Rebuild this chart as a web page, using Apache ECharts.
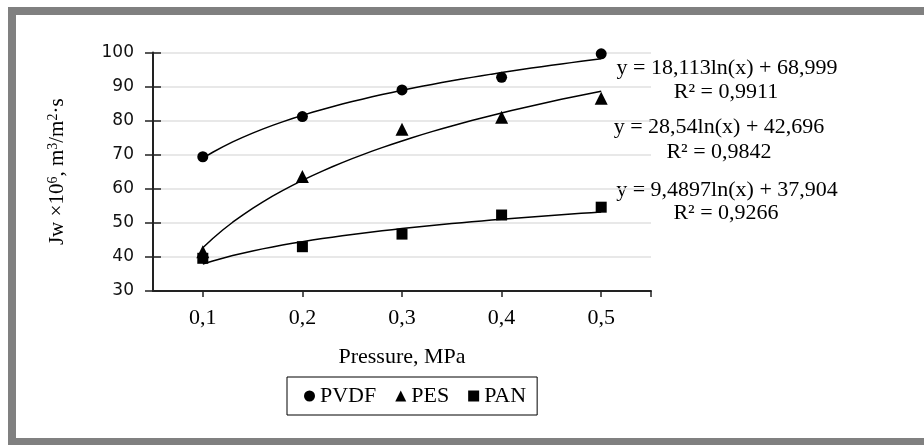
<!DOCTYPE html>
<html>
<head>
<meta charset="utf-8">
<script src="https://cdn.jsdelivr.net/npm/echarts@6/dist/echarts.min.js"></script>
<style>
  html, body { margin: 0; padding: 0; background: #fff; }
  #main { width: 924px; height: 445px; }
</style>
</head>
<body>
<div id="main"></div>
<script>
// pressure labels (x categories)
var pressures = ['0,1', '0,2', '0,3', '0,4', '0,5'];
// measured flux values
var pvdf = [69.4, 81.2, 89.0, 92.7, 99.6];
var pes = [41.5, 63.6, 77.5, 81.0, 86.6];
var pan = [39.6, 43.0, 46.7, 52.3, 54.6];
// log trendlines y = a ln(x) + b, x = point index 1..5
var trendA = [18.113, 28.54, 9.4897];
var trendB = [68.999, 42.696, 37.904];
var equations = ['y = 18,113ln(x) + 68,999', 'y = 28,54ln(x) + 42,696', 'y = 9,4897ln(x) + 37,904'];
var rSquared = ['R² = 0,9911', 'R² = 0,9842', 'R² = 0,9266'];

var serif = '"Liberation Serif", "Times New Roman", serif';

function points(vals) {
  return vals.map(function (v, i) { return [i + 1, v]; });
}
function trend(k) {
  var out = [];
  for (var i = 0; i <= 40; i++) {
    var x = 1 + i * 0.1;
    out.push([x, trendA[k] * Math.log(x) + trendB[k]]);
  }
  return out;
}

var myChart = echarts.init(document.getElementById('main'));

var markerSeries = [
  { name: 'PVDF', data: pvdf, symbol: 'circle', size: 11 },
  { name: 'PES', data: pes, symbol: 'triangle', size: 13 },
  { name: 'PAN', data: pan, symbol: 'rect', size: 11 }
];

var series = [];
markerSeries.forEach(function (s, k) {
  series.push({
    name: 'trend' + k,
    type: 'line',
    data: trend(k),
    showSymbol: false,
    lineStyle: { color: '#000', width: 1.5 },
    silent: true,
    z: 2
  });
});
markerSeries.forEach(function (s) {
  series.push({
    name: s.name,
    type: 'scatter',
    data: points(s.data),
    symbol: s.symbol,
    symbolSize: s.size,
    itemStyle: { color: '#000', opacity: 1 },
    z: 3
  });
});

// equation annotation text
var eqPos = [[727, 68, 726, 92], [719, 127, 719, 152], [727, 190, 726, 213]];
var graphics = [{
  type: 'rect',
  shape: { x: 12, y: 11, width: 1000, height: 431 },
  style: { fill: 'none', stroke: '#808080', lineWidth: 8 },
  silent: true
}];
equations.forEach(function (eq, k) {
  graphics.push({
    type: 'text', x: eqPos[k][0], y: eqPos[k][1],
    style: { text: eq, font: '22px ' + serif, fill: '#000', textAlign: 'center', textVerticalAlign: 'middle' }
  });
  graphics.push({
    type: 'text', x: eqPos[k][2], y: eqPos[k][3],
    style: { text: rSquared[k], font: '22px ' + serif, fill: '#000', textAlign: 'center', textVerticalAlign: 'middle' }
  });
});

var option = {
  animation: false,
  backgroundColor: '#fff',
  grid: { left: 153, right: 273, top: 52.5, bottom: 154, containLabel: false },
  xAxis: {
    type: 'value',
    min: 0.5,
    max: 5.5,
    name: 'Pressure, MPa',
    nameLocation: 'middle',
    nameGap: 55,
    nameTextStyle: { fontFamily: serif, fontSize: 22, color: '#000' },
    axisLine: { lineStyle: { color: '#222', width: 2 } },
    axisTick: { show: true, length: 6, customValues: [1, 2, 3, 4, 5, 5.5], lineStyle: { color: '#222', width: 1.5 } },
    axisLabel: {
      customValues: [1, 2, 3, 4, 5],
      margin: 16,
      fontFamily: serif, fontSize: 22, color: '#000',
      formatter: function (v) { return pressures[Math.round(v) - 1]; }
    },
    splitLine: { show: false }
  },
  yAxis: [{
    type: 'value',
    min: 30,
    max: 100,
    interval: 10,
    name: 'Jw ×10{s|6}, m{s|3}/m{s|2}·s',
    nameLocation: 'middle',
    nameRotate: 90,
    nameGap: 84,
    nameTextStyle: {
      fontFamily: serif, fontSize: 21, color: '#000', lineHeight: 23,
      rich: { s: { fontFamily: serif, fontSize: 14, color: '#000', verticalAlign: 'top', lineHeight: 14 } }
    },
    axisLine: { show: true, lineStyle: { color: '#222', width: 2 } },
    axisTick: { show: true, length: 8, lineStyle: { color: '#222', width: 1.5 } },
    axisLabel: { margin: 19, fontFamily: '"DejaVu Sans", Verdana, sans-serif', fontSize: 17, color: '#111' },
    splitLine: { show: true, lineStyle: { color: '#e0e0e0', width: 1.5 } }
  }, {
    type: 'value',
    position: 'left',
    min: 30,
    max: 100,
    interval: 10,
    axisLine: { show: false },
    axisTick: { show: true, inside: true, length: 8, lineStyle: { color: '#222', width: 1.5 } },
    axisLabel: { show: false },
    splitLine: { show: false }
  }],
  legend: {
    data: [
      { name: 'PVDF', icon: 'circle' },
      { name: 'PES', icon: 'triangle' },
      { name: 'PAN', icon: 'rect' }
    ],
    left: 287,
    top: 377,
    orient: 'horizontal',
    padding: [8, 11, 8, 17],
    itemGap: 19,
    itemWidth: 11,
    itemHeight: 11,
    borderColor: '#000',
    borderWidth: 1,
    textStyle: { fontFamily: serif, fontSize: 22, color: '#000' }
  },
  graphic: graphics,
  series: series
};

option && myChart.setOption(option);
</script>
</body>
</html>
